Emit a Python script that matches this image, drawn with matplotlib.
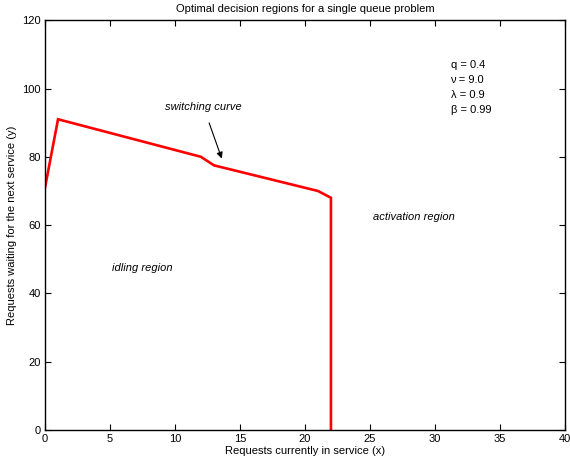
import matplotlib
matplotlib.use("Agg")
import matplotlib.pyplot as plt

# switching curve (x = requests in service, y = requests waiting)
curve_x = [0, 1, 12, 13, 21, 22, 22]
curve_y = [71, 91, 80, 77.5, 70, 68, 0]

params = ["q = 0.4", "ν = 9.0", "λ = 0.9", "β = 0.99"]

plt.rcParams["font.family"] = ["Liberation Sans", "DejaVu Sans"]
plt.rcParams["font.size"] = 8

fig = plt.figure(figsize=(5.7, 4.7), dpi=100)
ax = fig.add_axes([0.079, 0.085, 0.912, 0.872])

ax.plot(curve_x, curve_y, color="#ff0000", linewidth=1.9, solid_joinstyle="miter")

ax.set_xlim(0, 40)
ax.set_ylim(0, 120)
ax.set_xticks(range(0, 41, 5))
ax.set_yticks(range(0, 121, 20))
ax.tick_params(direction="in", top=True, right=True, length=4, width=0.8,
               labelsize=8, pad=3)
for s in ax.spines.values():
    s.set_linewidth(1.0)

ax.set_title("Optimal decision regions for a single queue problem",
             fontsize=8, pad=6)
ax.set_xlabel("Requests currently in service (x)", fontsize=8, labelpad=1)
ax.set_ylabel("Requests waiting for the next service (y)", fontsize=8, labelpad=4)

ax.annotate("switching curve", xy=(13.6, 79.5), xytext=(12.2, 94.5),
            ha="center", va="center", style="italic", fontsize=8,
            arrowprops=dict(arrowstyle="-|>", color="black", lw=0.8,
                            shrinkA=6, shrinkB=0, mutation_scale=9))
ax.text(28.4, 62.5, "activation region", ha="center", va="center",
        style="italic", fontsize=8)
ax.text(7.5, 47.5, "idling region", ha="center", va="center",
        style="italic", fontsize=8)

ax.text(31.2, 108.4, "\n".join(params), ha="left", va="top",
        fontsize=8, linespacing=1.62)

fig.savefig("out.png", dpi=100)
